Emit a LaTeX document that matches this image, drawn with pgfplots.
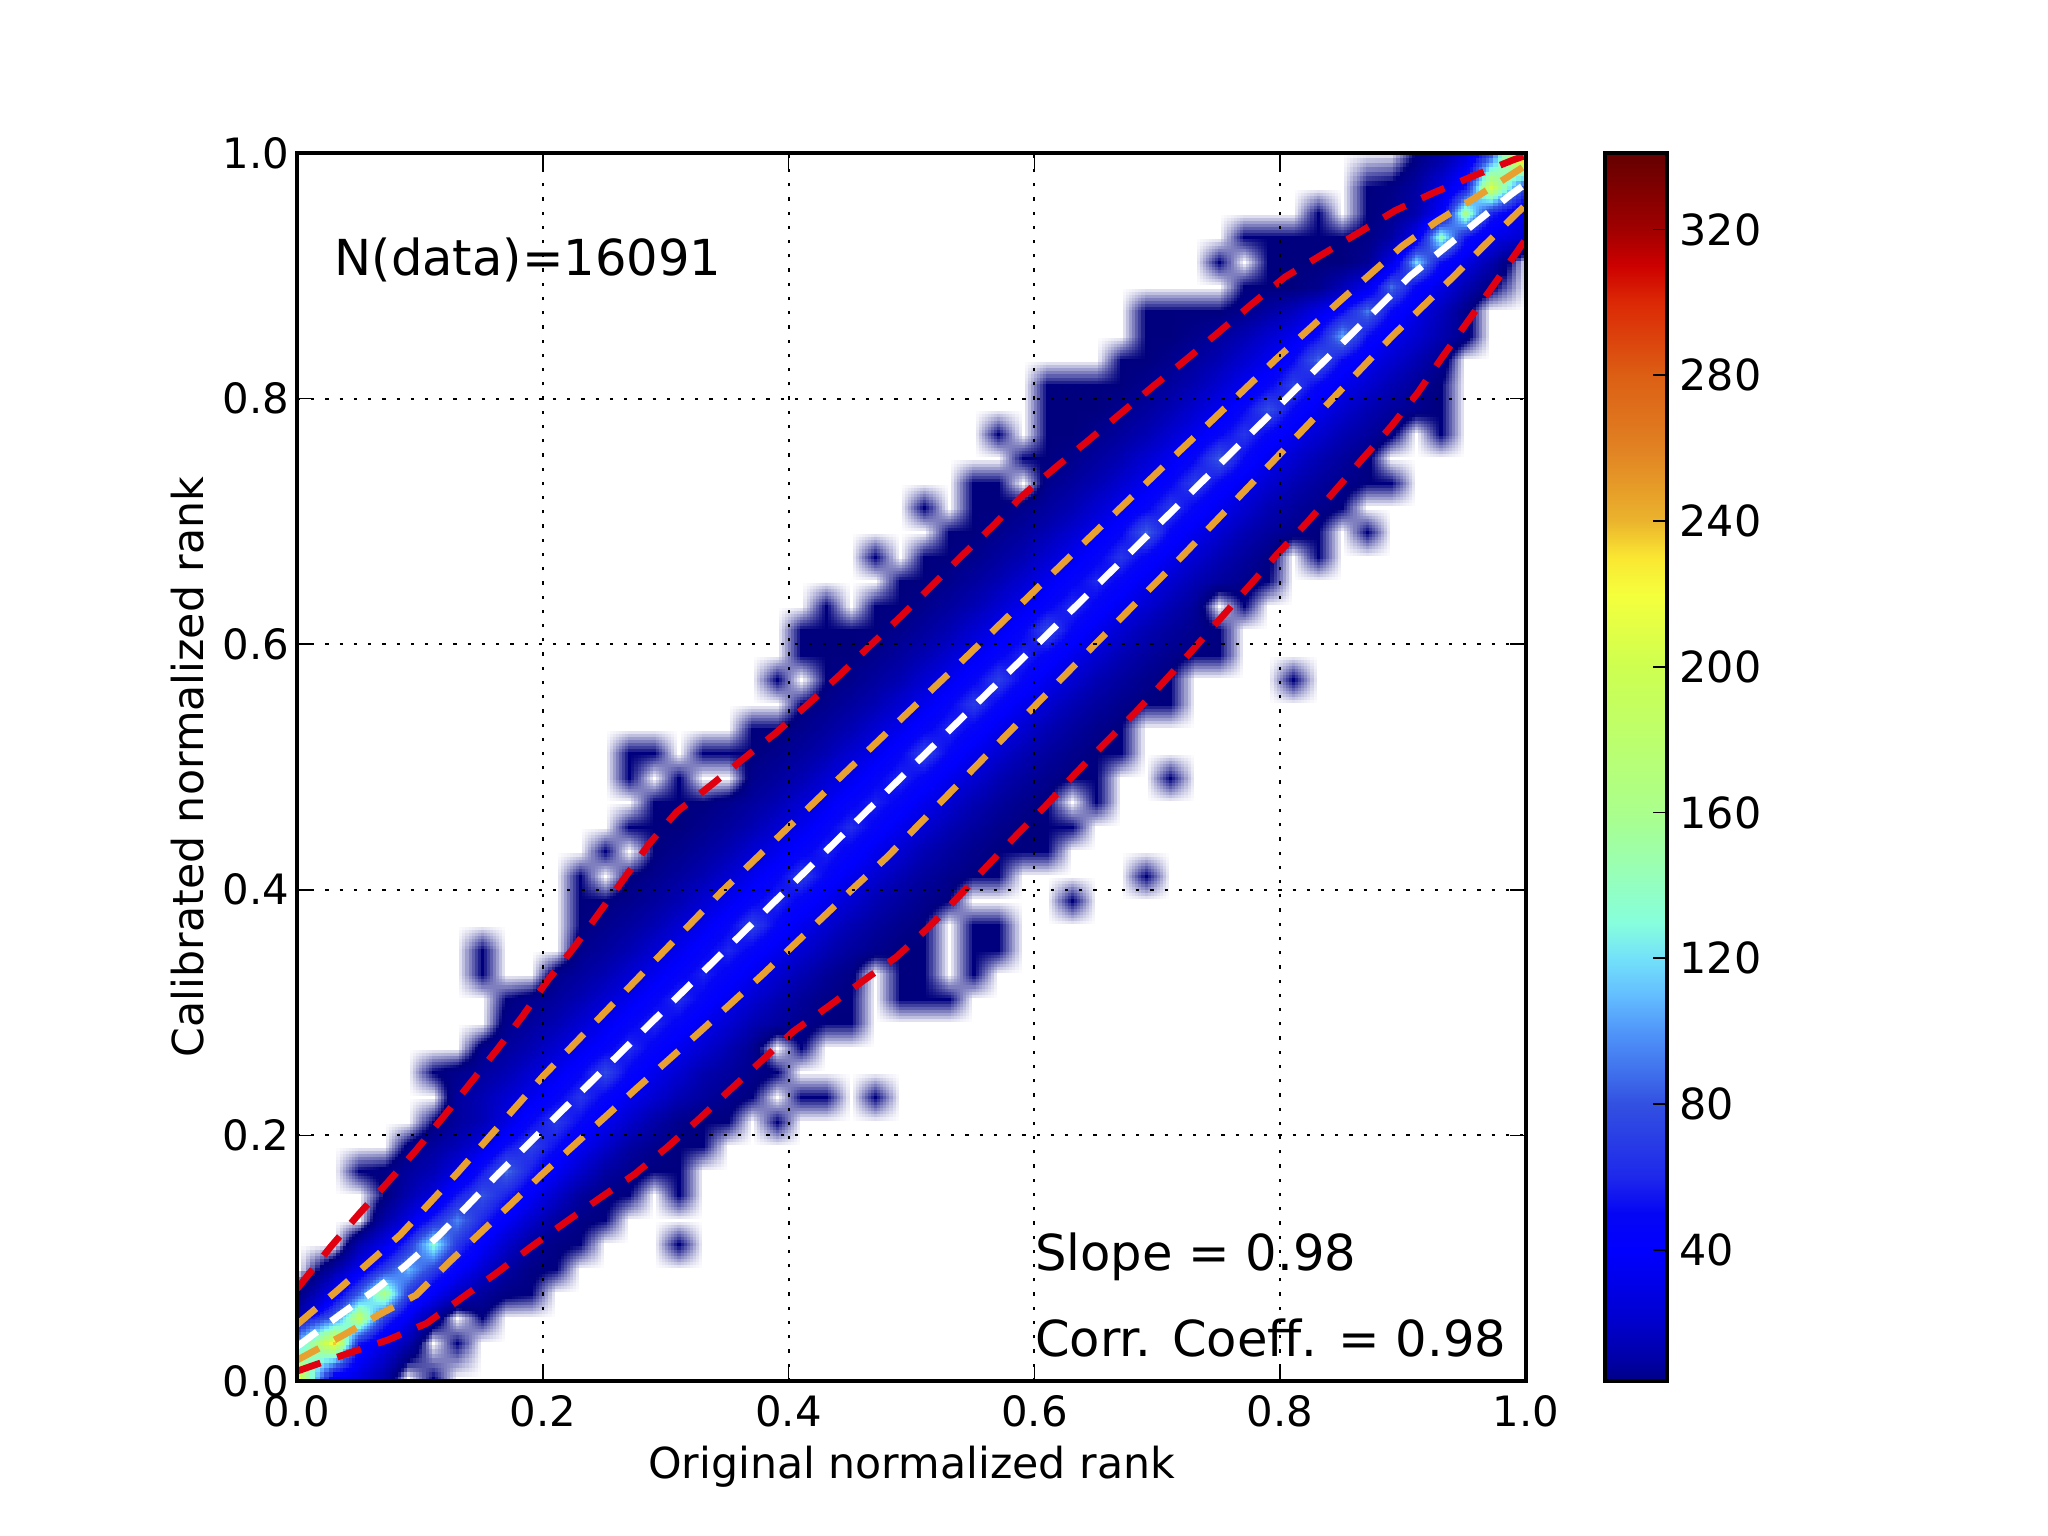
\documentclass[border=0pt]{standalone}
\usepackage{fontspec}
\setmainfont{DejaVu Sans}
\usepackage{pgfplots}
\usepgfplotslibrary{patchplots}
\pgfplotsset{compat=1.18}
% colour positions are 100*sqrt(count): the low counts need room in the shading domain
\pgfplotsset{
  colormap={jetwhite}{
    rgb255(0)=(255,255,255) rgb255(173)=(0,0,127) rgb255(632)=(0,0,255) rgb255(707)=(5,5,245)
    rgb255(775)=(30,40,235) rgb255(894)=(50,80,225) rgb255(1000)=(80,150,250) rgb255(1049)=(100,190,255)
    rgb255(1095)=(115,225,250) rgb255(1140)=(135,255,220) rgb255(1265)=(170,255,140)
    rgb255(1414)=(205,255,80) rgb255(1483)=(245,255,60) rgb255(1517)=(250,230,50)
    rgb255(1549)=(235,180,45) rgb255(1612)=(225,130,35) rgb255(1673)=(220,95,20)
    rgb255(1732)=(220,40,5) rgb255(1761)=(205,0,0) rgb255(1789)=(160,0,0) rgb255(1847)=(100,0,0)
  },
  tick label style={/pgf/number format/assume math mode=true},
  label style={font=\fontsize{12.05}{14}\selectfont},
}
\definecolor{refred}{RGB}{224,0,16}
\definecolor{reforange}{RGB}{232,160,48}
\begin{document}
\begin{tikzpicture}
\useasboundingbox (0,0) rectangle (576bp,432bp);
\begin{axis}[
  at={(83.53bp,43.59bp)}, anchor=south west,
  scale only axis, width=345.66bp, height=345.4bp,
  xmin=0, xmax=1, ymin=0, ymax=1,
  xtick={0,0.2,...,1.0}, ytick={0,0.2,...,1.0},
  tick align=inside, major tick length=4.5bp,
  every tick/.style={black,line width=0.5bp},
  axis line style={line width=0.9bp},
  tick label style={font=\fontsize{11.8}{14}\selectfont},
  xticklabel style={yshift=-0.5bp,/pgf/number format/fixed,/pgf/number format/fixed zerofill,/pgf/number format/precision=1},
  yticklabel style={xshift=1.4bp,/pgf/number format/fixed,/pgf/number format/fixed zerofill,/pgf/number format/precision=1},
  grid=major, grid style={black,line width=0.55bp,dash pattern=on 0.9bp off 3.1bp},
  axis on top,
  xlabel={Original normalized rank}, ylabel={Calibrated normalized rank},
  xlabel style={yshift=1.5bp}, ylabel style={yshift=-1.5bp},
  point meta min=0, point meta max=18.47,
]
% 2d histogram counts, 50 bins a side, rows bottom to top
\addplot[surf, shader=interp, patch type=bilinear, mesh/cols=50, mesh/ordering=x varies, point meta=explicit] table[
  header=false, row sep=crcr, meta expr={sqrt(\thisrowno{0})},
  x expr={(mod(\coordindex,50)==0)?0:((mod(\coordindex,50)==49)?1:(2*mod(\coordindex,50)+1)/100)},
  y expr={(floor(\coordindex/50)==0)?0:((floor(\coordindex/50)==49)?1:(2*floor(\coordindex/50)+1)/100)},
] {
215\\35\\25\\10\\0\\3\\0\\0\\0\\0\\ 0\\0\\0\\0\\0\\0\\0\\0\\0\\0\\ 0\\0\\0\\0\\0\\0\\0\\0\\0\\0\\ 0\\0\\0\\0\\0\\0\\0\\0\\0\\0\\ 0\\0\\0\\0\\0\\0\\0\\0\\0\\0\\
110\\235\\55\\30\\12\\0\\3\\0\\0\\0\\ 0\\0\\0\\0\\0\\0\\0\\0\\0\\0\\ 0\\0\\0\\0\\0\\0\\0\\0\\0\\0\\ 0\\0\\0\\0\\0\\0\\0\\0\\0\\0\\ 0\\0\\0\\0\\0\\0\\0\\0\\0\\0\\
50\\90\\190\\70\\35\\8\\0\\3\\0\\0\\ 0\\0\\0\\0\\0\\0\\0\\0\\0\\0\\ 0\\0\\0\\0\\0\\0\\0\\0\\0\\0\\ 0\\0\\0\\0\\0\\0\\0\\0\\0\\0\\ 0\\0\\0\\0\\0\\0\\0\\0\\0\\0\\
12\\40\\85\\165\\70\\38\\18\\8\\4\\3\\ 0\\0\\0\\0\\0\\0\\0\\0\\0\\0\\ 0\\0\\0\\0\\0\\0\\0\\0\\0\\0\\ 0\\0\\0\\0\\0\\0\\0\\0\\0\\0\\ 0\\0\\0\\0\\0\\0\\0\\0\\0\\0\\
0\\10\\35\\70\\110\\72\\42\\22\\9\\4\\ 3\\0\\0\\0\\0\\0\\0\\0\\0\\0\\ 0\\0\\0\\0\\0\\0\\0\\0\\0\\0\\ 0\\0\\0\\0\\0\\0\\0\\0\\0\\0\\ 0\\0\\0\\0\\0\\0\\0\\0\\0\\0\\
0\\0\\12\\30\\65\\135\\68\\40\\20\\8\\ 4\\3\\0\\0\\0\\3\\0\\0\\0\\0\\ 0\\0\\0\\0\\0\\0\\0\\0\\0\\0\\ 0\\0\\0\\0\\0\\0\\0\\0\\0\\0\\ 0\\0\\0\\0\\0\\0\\0\\0\\0\\0\\
0\\0\\0\\10\\28\\60\\95\\60\\38\\20\\ 8\\4\\3\\0\\0\\0\\0\\0\\0\\0\\ 0\\0\\0\\0\\0\\0\\0\\0\\0\\0\\ 0\\0\\0\\0\\0\\0\\0\\0\\0\\0\\ 0\\0\\0\\0\\0\\0\\0\\0\\0\\0\\
0\\0\\0\\3\\12\\26\\55\\80\\58\\38\\ 20\\8\\4\\3\\0\\3\\0\\0\\0\\0\\ 0\\0\\0\\0\\0\\0\\0\\0\\0\\0\\ 0\\0\\0\\0\\0\\0\\0\\0\\0\\0\\ 0\\0\\0\\0\\0\\0\\0\\0\\0\\0\\
0\\0\\3\\4\\8\\14\\28\\55\\88\\56\\ 36\\20\\9\\5\\3\\3\\0\\0\\0\\0\\ 0\\0\\0\\0\\0\\0\\0\\0\\0\\0\\ 0\\0\\0\\0\\0\\0\\0\\0\\0\\0\\ 0\\0\\0\\0\\0\\0\\0\\0\\0\\0\\
0\\0\\0\\0\\4\\8\\14\\28\\52\\72\\ 52\\35\\20\\9\\5\\3\\3\\0\\0\\0\\ 0\\0\\0\\0\\0\\0\\0\\0\\0\\0\\ 0\\0\\0\\0\\0\\0\\0\\0\\0\\0\\ 0\\0\\0\\0\\0\\0\\0\\0\\0\\0\\
0\\0\\0\\0\\0\\3\\8\\14\\28\\50\\ 68\\50\\34\\20\\10\\5\\3\\3\\0\\3\\ 0\\0\\0\\0\\0\\0\\0\\0\\0\\0\\ 0\\0\\0\\0\\0\\0\\0\\0\\0\\0\\ 0\\0\\0\\0\\0\\0\\0\\0\\0\\0\\
0\\0\\0\\0\\0\\0\\8\\13\\22\\33\\ 47\\66\\47\\33\\22\\13\\8\\5\\3\\0\\ 3\\3\\0\\3\\0\\0\\0\\0\\0\\0\\ 0\\0\\0\\0\\0\\0\\0\\0\\0\\0\\ 0\\0\\0\\0\\0\\0\\0\\0\\0\\0\\
0\\0\\0\\0\\0\\3\\5\\8\\13\\22\\ 33\\48\\75\\48\\32\\22\\12\\8\\5\\3\\ 0\\0\\0\\0\\0\\0\\0\\0\\0\\0\\ 0\\0\\0\\0\\0\\0\\0\\0\\0\\0\\ 0\\0\\0\\0\\0\\0\\0\\0\\0\\0\\
0\\0\\0\\0\\0\\0\\0\\5\\8\\13\\ 22\\33\\46\\62\\46\\33\\22\\13\\6\\0\\ 3\\0\\0\\0\\0\\0\\0\\0\\0\\0\\ 0\\0\\0\\0\\0\\0\\0\\0\\0\\0\\ 0\\0\\0\\0\\0\\0\\0\\0\\0\\0\\
0\\0\\0\\0\\0\\0\\0\\0\\5\\8\\ 13\\22\\33\\47\\60\\47\\33\\22\\13\\8\\ 5\\3\\3\\0\\0\\0\\0\\0\\0\\0\\ 0\\0\\0\\0\\0\\0\\0\\0\\0\\0\\ 0\\0\\0\\0\\0\\0\\0\\0\\0\\0\\
0\\0\\0\\0\\0\\0\\0\\0\\3\\5\\ 8\\13\\22\\33\\47\\62\\47\\33\\22\\13\\ 7\\4\\3\\0\\3\\3\\3\\0\\0\\0\\ 0\\0\\0\\0\\0\\0\\0\\0\\0\\0\\ 0\\0\\0\\0\\0\\0\\0\\0\\0\\0\\
0\\0\\0\\0\\0\\0\\0\\3\\0\\0\\ 5\\8\\13\\22\\33\\46\\58\\46\\33\\22\\ 13\\7\\4\\0\\3\\3\\0\\3\\0\\0\\ 0\\0\\0\\0\\0\\0\\0\\0\\0\\0\\ 0\\0\\0\\0\\0\\0\\0\\0\\0\\0\\
0\\0\\0\\0\\0\\0\\0\\3\\0\\0\\ 0\\5\\8\\13\\22\\33\\47\\60\\47\\33\\ 22\\13\\8\\5\\3\\3\\0\\3\\3\\0\\ 0\\0\\0\\0\\0\\0\\0\\0\\0\\0\\ 0\\0\\0\\0\\0\\0\\0\\0\\0\\0\\
0\\0\\0\\0\\0\\0\\0\\0\\0\\0\\ 0\\3\\5\\8\\13\\22\\33\\48\\72\\48\\ 33\\22\\13\\8\\5\\3\\0\\3\\3\\0\\ 0\\0\\0\\0\\0\\0\\0\\0\\0\\0\\ 0\\0\\0\\0\\0\\0\\0\\0\\0\\0\\
0\\0\\0\\0\\0\\0\\0\\0\\0\\0\\ 0\\3\\3\\5\\8\\13\\22\\33\\47\\60\\ 47\\33\\22\\13\\8\\5\\3\\0\\0\\0\\ 0\\3\\0\\0\\0\\0\\0\\0\\0\\0\\ 0\\0\\0\\0\\0\\0\\0\\0\\0\\0\\
0\\0\\0\\0\\0\\0\\0\\0\\0\\0\\ 0\\3\\0\\3\\5\\8\\13\\22\\33\\48\\ 68\\48\\33\\22\\13\\8\\5\\3\\3\\0\\ 0\\0\\0\\0\\3\\0\\0\\0\\0\\0\\ 0\\0\\0\\0\\0\\0\\0\\0\\0\\0\\
0\\0\\0\\0\\0\\0\\0\\0\\0\\0\\ 0\\0\\3\\0\\3\\5\\8\\13\\22\\33\\ 46\\58\\46\\33\\22\\13\\8\\5\\3\\3\\ 3\\0\\0\\0\\0\\0\\0\\0\\0\\0\\ 0\\0\\0\\0\\0\\0\\0\\0\\0\\0\\
0\\0\\0\\0\\0\\0\\0\\0\\0\\0\\ 0\\0\\0\\3\\3\\3\\5\\8\\13\\22\\ 33\\47\\62\\47\\33\\22\\13\\8\\5\\3\\ 3\\3\\0\\0\\0\\0\\0\\0\\0\\0\\ 0\\0\\0\\0\\0\\0\\0\\0\\0\\0\\
0\\0\\0\\0\\0\\0\\0\\0\\0\\0\\ 0\\0\\0\\0\\3\\3\\3\\5\\8\\13\\ 22\\33\\47\\58\\47\\33\\22\\13\\8\\5\\ 3\\0\\3\\0\\0\\0\\0\\0\\0\\0\\ 0\\0\\0\\0\\0\\0\\0\\0\\0\\0\\
0\\0\\0\\0\\0\\0\\0\\0\\0\\0\\ 0\\0\\0\\3\\0\\3\\0\\0\\5\\8\\ 13\\22\\33\\47\\60\\47\\33\\22\\13\\8\\ 5\\3\\3\\0\\0\\3\\0\\0\\0\\0\\ 0\\0\\0\\0\\0\\0\\0\\0\\0\\0\\
0\\0\\0\\0\\0\\0\\0\\0\\0\\0\\ 0\\0\\0\\3\\3\\0\\3\\3\\3\\5\\ 8\\13\\22\\33\\48\\72\\48\\33\\22\\13\\ 8\\5\\3\\3\\0\\0\\0\\0\\0\\0\\ 0\\0\\0\\0\\0\\0\\0\\0\\0\\0\\
0\\0\\0\\0\\0\\0\\0\\0\\0\\0\\ 0\\0\\0\\0\\0\\0\\0\\0\\3\\3\\ 5\\8\\13\\22\\33\\47\\60\\47\\33\\22\\ 13\\8\\5\\3\\0\\0\\0\\0\\0\\0\\ 0\\0\\0\\0\\0\\0\\0\\0\\0\\0\\
0\\0\\0\\0\\0\\0\\0\\0\\0\\0\\ 0\\0\\0\\0\\0\\0\\0\\0\\0\\0\\ 3\\5\\8\\13\\22\\33\\48\\68\\48\\33\\ 22\\13\\8\\5\\3\\3\\0\\0\\0\\0\\ 0\\0\\0\\0\\0\\0\\0\\0\\0\\0\\
0\\0\\0\\0\\0\\0\\0\\0\\0\\0\\ 0\\0\\0\\0\\0\\0\\0\\0\\0\\3\\ 0\\3\\5\\8\\13\\22\\33\\48\\70\\48\\ 33\\22\\13\\8\\5\\3\\0\\0\\0\\0\\ 3\\0\\0\\0\\0\\0\\0\\0\\0\\0\\
0\\0\\0\\0\\0\\0\\0\\0\\0\\0\\ 0\\0\\0\\0\\0\\0\\0\\0\\0\\0\\ 3\\3\\3\\5\\8\\13\\22\\33\\47\\60\\ 47\\33\\22\\13\\8\\5\\3\\3\\0\\0\\ 0\\0\\0\\0\\0\\0\\0\\0\\0\\0\\
0\\0\\0\\0\\0\\0\\0\\0\\0\\0\\ 0\\0\\0\\0\\0\\0\\0\\0\\0\\0\\ 3\\3\\3\\3\\5\\8\\13\\22\\33\\48\\ 75\\48\\33\\22\\13\\8\\5\\3\\0\\0\\ 0\\0\\0\\0\\0\\0\\0\\0\\0\\0\\
0\\0\\0\\0\\0\\0\\0\\0\\0\\0\\ 0\\0\\0\\0\\0\\0\\0\\0\\0\\0\\ 0\\3\\0\\3\\3\\5\\8\\13\\22\\33\\ 47\\62\\47\\33\\22\\13\\7\\0\\3\\0\\ 0\\0\\0\\0\\0\\0\\0\\0\\0\\0\\
0\\0\\0\\0\\0\\0\\0\\0\\0\\0\\ 0\\0\\0\\0\\0\\0\\0\\0\\0\\0\\ 0\\0\\0\\0\\3\\3\\5\\8\\13\\22\\ 33\\47\\60\\47\\33\\22\\13\\8\\5\\3\\ 0\\0\\0\\0\\0\\0\\0\\0\\0\\0\\
0\\0\\0\\0\\0\\0\\0\\0\\0\\0\\ 0\\0\\0\\0\\0\\0\\0\\0\\0\\0\\ 0\\0\\0\\3\\0\\3\\3\\5\\8\\13\\ 22\\33\\47\\66\\47\\33\\22\\13\\8\\4\\ 0\\3\\0\\0\\0\\0\\0\\0\\0\\0\\
0\\0\\0\\0\\0\\0\\0\\0\\0\\0\\ 0\\0\\0\\0\\0\\0\\0\\0\\0\\0\\ 0\\0\\0\\0\\0\\0\\3\\3\\5\\8\\ 13\\22\\33\\48\\85\\48\\33\\22\\13\\8\\ 5\\3\\0\\3\\0\\0\\0\\0\\0\\0\\
0\\0\\0\\0\\0\\0\\0\\0\\0\\0\\ 0\\0\\0\\0\\0\\0\\0\\0\\0\\0\\ 0\\0\\0\\0\\0\\3\\0\\3\\3\\5\\ 8\\13\\22\\33\\47\\68\\47\\33\\22\\13\\ 8\\5\\3\\0\\0\\0\\0\\0\\0\\0\\
0\\0\\0\\0\\0\\0\\0\\0\\0\\0\\ 0\\0\\0\\0\\0\\0\\0\\0\\0\\0\\ 0\\0\\0\\0\\0\\0\\0\\3\\3\\0\\ 5\\8\\13\\22\\33\\48\\72\\48\\33\\22\\ 13\\8\\5\\3\\3\\0\\0\\0\\0\\0\\
0\\0\\0\\0\\0\\0\\0\\0\\0\\0\\ 0\\0\\0\\0\\0\\0\\0\\0\\0\\0\\ 0\\0\\0\\0\\0\\0\\0\\0\\0\\3\\ 3\\5\\8\\13\\22\\33\\50\\82\\50\\33\\ 22\\13\\8\\4\\0\\0\\0\\0\\0\\0\\
0\\0\\0\\0\\0\\0\\0\\0\\0\\0\\ 0\\0\\0\\0\\0\\0\\0\\0\\0\\0\\ 0\\0\\0\\0\\0\\0\\0\\0\\3\\0\\ 3\\3\\5\\8\\13\\22\\33\\48\\66\\48\\ 33\\22\\13\\8\\4\\0\\3\\0\\0\\0\\
0\\0\\0\\0\\0\\0\\0\\0\\0\\0\\ 0\\0\\0\\0\\0\\0\\0\\0\\0\\0\\ 0\\0\\0\\0\\0\\0\\0\\0\\0\\0\\ 3\\3\\3\\5\\8\\13\\22\\33\\50\\78\\ 50\\33\\22\\13\\8\\5\\3\\0\\0\\0\\
0\\0\\0\\0\\0\\0\\0\\0\\0\\0\\ 0\\0\\0\\0\\0\\0\\0\\0\\0\\0\\ 0\\0\\0\\0\\0\\0\\0\\0\\0\\0\\ 3\\3\\3\\3\\5\\8\\13\\22\\33\\48\\ 72\\48\\33\\22\\13\\7\\3\\0\\0\\0\\
0\\0\\0\\0\\0\\0\\0\\0\\0\\0\\ 0\\0\\0\\0\\0\\0\\0\\0\\0\\0\\ 0\\0\\0\\0\\0\\0\\0\\0\\0\\0\\ 0\\0\\0\\3\\3\\5\\8\\13\\22\\33\\ 50\\88\\50\\33\\22\\13\\6\\0\\0\\0\\
0\\0\\0\\0\\0\\0\\0\\0\\0\\0\\ 0\\0\\0\\0\\0\\0\\0\\0\\0\\0\\ 0\\0\\0\\0\\0\\0\\0\\0\\0\\0\\ 0\\0\\0\\0\\3\\3\\5\\8\\13\\22\\ 33\\52\\105\\52\\33\\22\\12\\5\\0\\0\\
0\\0\\0\\0\\0\\0\\0\\0\\0\\0\\ 0\\0\\0\\0\\0\\0\\0\\0\\0\\0\\ 0\\0\\0\\0\\0\\0\\0\\0\\0\\0\\ 0\\0\\0\\0\\3\\3\\3\\3\\5\\9\\ 16\\30\\50\\92\\50\\30\\16\\5\\0\\0\\
0\\0\\0\\0\\0\\0\\0\\0\\0\\0\\ 0\\0\\0\\0\\0\\0\\0\\0\\0\\0\\ 0\\0\\0\\0\\0\\0\\0\\0\\0\\0\\ 0\\0\\0\\0\\0\\0\\0\\0\\3\\3\\ 3\\5\\14\\32\\88\\48\\28\\13\\4\\0\\
0\\0\\0\\0\\0\\0\\0\\0\\0\\0\\ 0\\0\\0\\0\\0\\0\\0\\0\\0\\0\\ 0\\0\\0\\0\\0\\0\\0\\0\\0\\0\\ 0\\0\\0\\0\\0\\0\\0\\3\\0\\3\\ 3\\3\\3\\6\\30\\120\\52\\30\\12\\0\\
0\\0\\0\\0\\0\\0\\0\\0\\0\\0\\ 0\\0\\0\\0\\0\\0\\0\\0\\0\\0\\ 0\\0\\0\\0\\0\\0\\0\\0\\0\\0\\ 0\\0\\0\\0\\0\\0\\0\\0\\3\\3\\ 3\\3\\3\\4\\9\\35\\140\\55\\32\\20\\
0\\0\\0\\0\\0\\0\\0\\0\\0\\0\\ 0\\0\\0\\0\\0\\0\\0\\0\\0\\0\\ 0\\0\\0\\0\\0\\0\\0\\0\\0\\0\\ 0\\0\\0\\0\\0\\0\\0\\0\\0\\0\\ 0\\3\\0\\3\\5\\12\\40\\160\\60\\30\\
0\\0\\0\\0\\0\\0\\0\\0\\0\\0\\ 0\\0\\0\\0\\0\\0\\0\\0\\0\\0\\ 0\\0\\0\\0\\0\\0\\0\\0\\0\\0\\ 0\\0\\0\\0\\0\\0\\0\\0\\0\\0\\ 0\\0\\0\\3\\4\\9\\25\\55\\205\\65\\
0\\0\\0\\0\\0\\0\\0\\0\\0\\0\\ 0\\0\\0\\0\\0\\0\\0\\0\\0\\0\\ 0\\0\\0\\0\\0\\0\\0\\0\\0\\0\\ 0\\0\\0\\0\\0\\0\\0\\0\\0\\0\\ 0\\0\\0\\0\\0\\3\\8\\22\\70\\341\\
};
% fitted line and scatter envelopes
\addplot[white,no markers,line width=1.9bp,dash pattern=on 7bp off 5bp] coordinates {(0,.028)(.035,.054)(.0635,.074)(.089,.0945)(.116,.119)(.164,.169)(.263,.267)(.486,.486)(.61,.6075)(.808,.803)(.906,.900)(.96,.944)(.9875,.966)(1,.975)};
\addplot[reforange,no markers,line width=1.9bp,dash pattern=on 7bp off 5bp] coordinates {(0,.046)(.032,.073)(.058,.096)(.084,.119)(.131,.170)(.2,.248)(.3455,.3985)(.4445,.494)(.495,.5424)(.545,.590)(.645,.687)(.72,.759)(.745,.7826)(.796,.8315)(.847,.878)(.899,.924)(.927,.944)(.957,.9625)(.986,.981)(1,.99)};
\addplot[reforange,no markers,line width=1.9bp,dash pattern=on 7bp off 5bp] coordinates {(0,.017)(.038,.0375)(.0675,.0545)(.097,.07)(.123,.096)(.173,.143)(.199,.168)(.276,.238)(.328,.2845)(.3785,.3306)(.454,.4025)(.48,.4265)(.6495,.6)(.7225,.674)(.8185,.7744)(.8907,.8504)(.9407,.899)(.965,.9236)(.9896,.948)(1,.958)};
\addplot[refred,no markers,line width=1.9bp,dash pattern=on 7bp off 5bp] coordinates {(0,.075)(.028,.11)(.051,.1367)(.074,.162)(.097,.188)(.119,.215)(.141,.2425)(.1625,.2695)(.1835,.297)(.203,.325)(.2254,.353)(.2457,.381)(.266,.409)(.2864,.4373)(.309,.4634)(.336,.4845)(.363,.5065)(.39,.528)(.416,.5513)(.4418,.575)(.4668,.5993)(.492,.6232)(.5164,.6474)(.541,.672)(.566,.696)(.59,.7207)(.617,.7437)(.6437,.7657)(.6966,.81)(.724,.8322)(.7505,.8545)(.777,.877)(.804,.899)(.8337,.917)(.8635,.9348)(.8934,.953)(.9244,.9674)(.9566,.981)(.9896,.9943)(1,.998)};
\addplot[refred,no markers,line width=1.9bp,dash pattern=on 7bp off 5bp] coordinates {(0,.008)(.04,.022)(.0738,.0334)(.1055,.047)(.134,.0676)(.1625,.088)(.1896,.1086)(.218,.129)(.2465,.149)(.275,.1686)(.3008,.19)(.3263,.2126)(.3523,.237)(.378,.2608)(.4036,.2845)(.4318,.3046)(.4597,.3252)(.488,.3455)(.5135,.369)(.538,.394)(.5612,.419)(.5856,.4446)(.6086,.4677)(.633,.4943)(.6575,.5195)(.682,.5442)(.7055,.5695)(.7288,.5953)(.797,.6726)(.8215,.6987)(.8446,.725)(.867,.751)(.89,.777)(.9118,.8045)(.9314,.833)(.9517,.8615)(.972,.89)(.992,.9186)(1,.93)};
\node[anchor=base west,inner sep=0pt,font=\fontsize{14}{16}\selectfont] at (axis cs:0.03,0.9) {N(data)=16091};
\node[anchor=base west,inner sep=0pt,font=\fontsize{14}{16}\selectfont] at (axis cs:0.6,0.09) {Slope = 0.98};
\node[anchor=base west,inner sep=0pt,font=\fontsize{14}{16}\selectfont] at (axis cs:0.6,0.02) {Corr. Coeff. = 0.98};
\end{axis}
\begin{axis}[
  at={(451.4bp,43.59bp)}, anchor=south west,
  scale only axis, width=17.44bp, height=345.4bp,
  xmin=0, xmax=1, ymin=4, ymax=341,
  xtick=\empty, ytick={40,80,...,320},
  ytick pos=right, yticklabel pos=right,
  tick align=inside, major tick length=3.8bp,
  every tick/.style={black,line width=0.5bp},
  axis line style={line width=0.9bp},
  tick label style={font=\fontsize{12.1}{14}\selectfont},
  axis on top,
  point meta min=0, point meta max=18.47,
]
\addplot[surf, shader=interp, mesh/cols=2, mesh/ordering=x varies, point meta={sqrt(y)}] coordinates {
(0,4)(1,4)(0,10)(1,10)(0,20)(1,20)(0,30)(1,30)(0,40)(1,40)(0,50)(1,50)(0,60)(1,60)(0,70)(1,70)(0,80)(1,80)(0,90)(1,90)
(0,100)(1,100)(0,110)(1,110)(0,120)(1,120)(0,130)(1,130)(0,140)(1,140)(0,150)(1,150)(0,160)(1,160)(0,170)(1,170)(0,180)(1,180)(0,190)(1,190)
(0,200)(1,200)(0,210)(1,210)(0,220)(1,220)(0,230)(1,230)(0,240)(1,240)(0,250)(1,250)(0,260)(1,260)(0,270)(1,270)(0,280)(1,280)(0,290)(1,290)
(0,300)(1,300)(0,310)(1,310)(0,320)(1,320)(0,330)(1,330)(0,341)(1,341)};
\end{axis}
\end{tikzpicture}
\end{document}
